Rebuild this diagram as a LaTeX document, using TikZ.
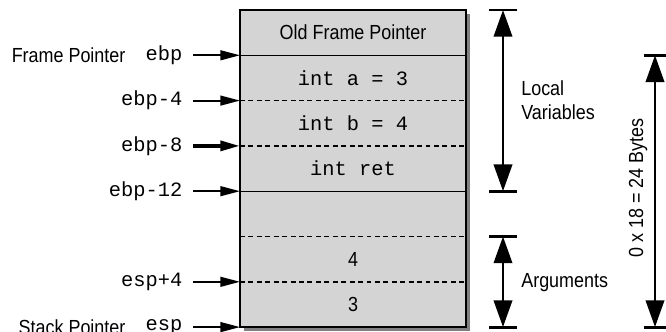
\documentclass[tikz,border=0pt]{standalone}
\usepackage{fontspec}
\setsansfont[FakeStretch=0.88]{Liberation Sans}
\setmonofont{Liberation Mono}
\usetikzlibrary{arrows.meta,positioning}

\begin{document}
\begin{tikzpicture}[
    font=\sffamily\fontsize{14.5}{17}\selectfont,
    line width=0.9pt,
    cell/.style={fill=black!17, minimum width=5.65cm, minimum height=1.1325cm, inner sep=0pt, outer sep=0pt},
    code/.style={font=\ttfamily\fontsize{14.5}{17}\selectfont},
    reglabel/.style={code, anchor=east, inner xsep=0.25cm, inner ysep=0pt},
    ptr/.style={-{Triangle[length=14pt,width=7pt]}, line width=1.3pt},
    sizearrow/.style={{Triangle[length=19pt,width=13pt]}-{Triangle[length=19pt,width=13pt]}, line width=2pt},
    bar/.style={line width=2pt},
    sep/.style={line width=1.2pt, dash pattern=on 3.5pt off 2.5pt}
]
\useasboundingbox (0,0) rectangle (16.65,8.275);

% shadow of the stack
\fill[black!50] (6.1,0.0) rectangle (11.75,7.925);

% stack cells
\node[cell] (oldfp) at (8.825,7.459) {Old Frame Pointer};
\node[cell, code, below=0pt of oldfp] (vara) {int a = 3};
\node[cell, code, below=0pt of vara] (varb) {int b = 4};
\node[cell, code, below=0pt of varb] (varret) {int ret};
\node[cell, below=0pt of varret] (gap) {};
\node[cell, below=0pt of gap] (arga) {4};
\node[cell, below=0pt of arga] (argb) {3};

\draw (oldfp.south west) -- (oldfp.south east);
\draw[sep] (vara.south west) -- (vara.south east);
\draw[sep] (varb.south west) -- (varb.south east);
\draw (varret.south west) -- (varret.south east);
\draw[sep] (gap.south west) -- (gap.south east);
\draw[sep] (arga.south west) -- (arga.south east);
\draw (oldfp.north west) rectangle (argb.south east);

% register labels
\node[reglabel] (ebp) at ([xshift=-1.175cm]oldfp.south west) {ebp};
\node[left=0.225cm of ebp, inner xsep=0pt] (fptext) {Frame Pointer};
\node[reglabel] (ebpa) at ([xshift=-1.175cm]vara.south west) {ebp-4};
\node[reglabel] (ebpb) at ([xshift=-1.175cm]varb.south west) {ebp-8};
\node[reglabel] (ebpc) at ([xshift=-1.175cm]varret.south west) {ebp-12};
\node[reglabel] (espa) at ([xshift=-1.175cm]arga.south west) {esp+4};
\node[reglabel] (esp) at ([xshift=-1.175cm]argb.south west) {esp};
\node[left=0.225cm of esp, inner xsep=0pt] (sptext) {Stack Pointer};

\draw[ptr] (ebp.east) -- (oldfp.south west);
\draw[ptr] (ebpa.east) -- (vara.south west);
\draw[ptr, line width=2.6pt] (ebpb.east) -- (varb.south west);
\draw[ptr] (ebpc.east) -- (varret.south west);
\draw[ptr] (espa.east) -- (arga.south west);
\draw[ptr] (esp.east) -- (argb.south west);

% sizes on the right
\coordinate (lvtop) at ([xshift=0.925cm]oldfp.north east);
\coordinate (lvbot) at ([xshift=0.925cm]varret.south east);
\coordinate (agtop) at ([xshift=0.925cm]gap.south east);
\coordinate (agbot) at ([xshift=0.925cm]argb.south east);
\coordinate (tottop) at ([xshift=4.725cm]oldfp.south east);
\coordinate (totbot) at ([xshift=4.725cm]argb.south east);

\draw[sizearrow] (lvtop) -- (lvbot);
\draw[sizearrow] (agtop) -- (agbot);
\draw[sizearrow] (tottop) -- (totbot);
\foreach \c in {lvtop,lvbot,agtop,agbot}
  \draw[bar] ([xshift=-0.34cm]\c) -- ([xshift=0.34cm]\c);
\foreach \c in {tottop,totbot}
  \draw[bar] ([xshift=-0.28cm]\c) -- ([xshift=0.28cm]\c);

\node[anchor=west, align=left] (lvtext) at (12.9,5.775) {Local\\Variables};
\node[anchor=west] (agtext) at (12.9,1.2) {Arguments};
\node[rotate=90] (sizetext) at (15.95,3.575) {0 x 18 = 24 Bytes};
\end{tikzpicture}
\end{document}
